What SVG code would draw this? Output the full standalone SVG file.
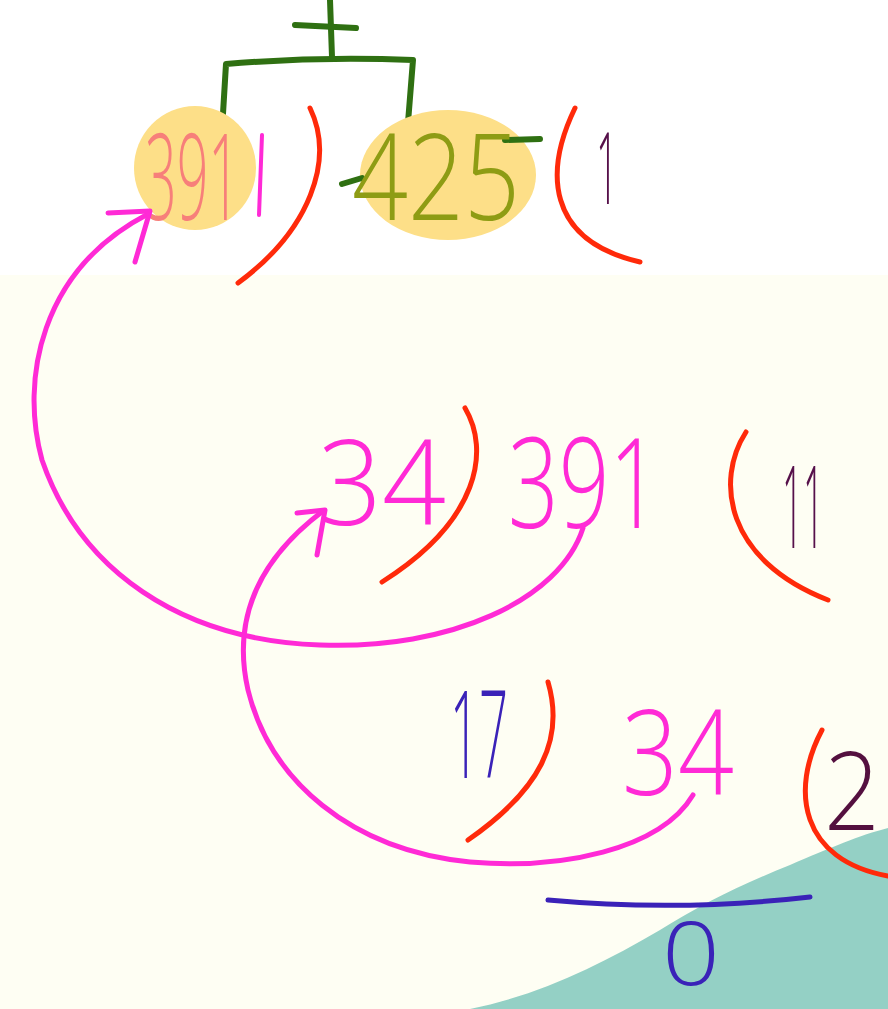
<svg xmlns="http://www.w3.org/2000/svg" width="888" height="1009" viewBox="0 0 888 1009">
<style>
.num{font-family:"Open Sans","Liberation Sans",sans-serif;font-weight:300;}
.red{fill:none;stroke:#ff2a0a;stroke-width:5;stroke-linecap:round}
.pink{fill:none;stroke:#ff2ad6;stroke-width:5;stroke-linecap:round;stroke-linejoin:round}
.green{fill:none;stroke:#2f7012;stroke-width:6;stroke-linecap:round;stroke-linejoin:round}
</style>
<rect x="0" y="0" width="888" height="1009" fill="#fefef3"/>
<rect x="0" y="0" width="888" height="275" fill="#ffffff"/>
<path d="M470 1009 C 540 995, 600 965, 660 930 C 700 905, 740 885, 790 865 C 830 848, 860 835, 888 828 L 888 1009 Z" fill="#94d0c5"/>

<g id="plus-bracket">
<path class="green" d="M330 0 L 332 57"/>
<path class="green" d="M295 25 L 356 28"/>
<path class="green" d="M222 130 L 226 64 Q 320 56 413 60 L 407 135"/>
</g>

<g id="node-391-top">
<ellipse cx="195" cy="168" rx="61" ry="62" fill="#fddf88"/>
<text class="num" x="145" y="220" font-size="120" textLength="95" lengthAdjust="spacingAndGlyphs" fill="#f77f7a">391</text>
<path d="M262 135 L 259 215" stroke="#ff2ad6" stroke-width="4" stroke-linecap="round"/>
</g>
<g id="paren-1">
<path class="red" d="M310 108 C 335 160, 310 230, 238 283"/>
</g>
<g id="node-425">
<ellipse cx="448" cy="175" rx="88" ry="65" fill="#fddf88"/>
<path class="green" d="M342 184 L 362 178" stroke-width="4"/>
<path class="green" d="M505 140 L 540 139" stroke-width="4"/>
<text class="num" x="352" y="220" font-size="120" textLength="168" lengthAdjust="spacingAndGlyphs" fill="#8e9c14">425</text>
</g>
<g id="paren-2">
<path class="red" d="M575 108 C 545 170, 545 240, 640 262"/>
</g>
<g id="quotient-1">
<text class="num" x="596" y="204" font-size="100" textLength="22" lengthAdjust="spacingAndGlyphs" fill="#56104a">1</text>
</g>

<g id="node-34-mid">
<text class="num" x="318" y="525" font-size="118" textLength="128" lengthAdjust="spacingAndGlyphs" fill="#ff2ad6">34</text>
</g>
<g id="paren-3">
<path class="red" d="M465 408 C 490 450, 480 520, 382 582"/>
</g>
<g id="node-391-mid">
<text class="num" x="508" y="528" font-size="125" textLength="152" lengthAdjust="spacingAndGlyphs" fill="#ff2ad6">391</text>
</g>
<g id="paren-4">
<path class="red" d="M746 432 C 715 480, 725 560, 828 600"/>
</g>
<g id="quotient-11">
<text class="num" transform="translate(782 548) scale(0.32 1)" font-size="115" font-weight="400" fill="#56104a">11</text>
</g>

<g id="node-17">
<text class="num" x="450" y="778" font-size="122" textLength="58" lengthAdjust="spacingAndGlyphs" fill="#3a22b8">17</text>
</g>
<g id="paren-5">
<path class="red" d="M548 682 C 565 740, 540 790, 468 840"/>
</g>
<g id="node-34-bottom">
<text class="num" x="622" y="795" font-size="118" textLength="112" lengthAdjust="spacingAndGlyphs" fill="#ff2ad6">34</text>
</g>
<g id="paren-6">
<path class="red" d="M822 730 C 790 790, 800 860, 888 876"/>
</g>
<g id="quotient-2">
<text class="num" x="824" y="830" font-size="108" font-weight="400" textLength="56" lengthAdjust="spacingAndGlyphs" fill="#54103f">2</text>
</g>
<g id="remainder-0">
<path d="M548 900 Q 680 912 810 897" fill="none" stroke="#3a22b8" stroke-width="5" stroke-linecap="round"/>
<text class="num" x="662" y="985" font-size="88" font-weight="400" textLength="58" lengthAdjust="spacingAndGlyphs" fill="#3a22b8">0</text>
</g>

<g id="connectors">
<path class="pink" d="M583 528 C 560 600, 450 650, 320 645 C 180 640, 80 570, 42 460 C 20 380, 40 270, 148 214"/>
<path class="pink" d="M108 213 L 150 211 L 135 262"/>
<path class="pink" d="M693 795 C 660 850, 560 870, 470 862 C 350 850, 270 780, 248 690 C 232 620, 258 560, 323 511"/>
<path class="pink" d="M297 513 L 325 510 L 317 555"/>
</g>
</svg>
